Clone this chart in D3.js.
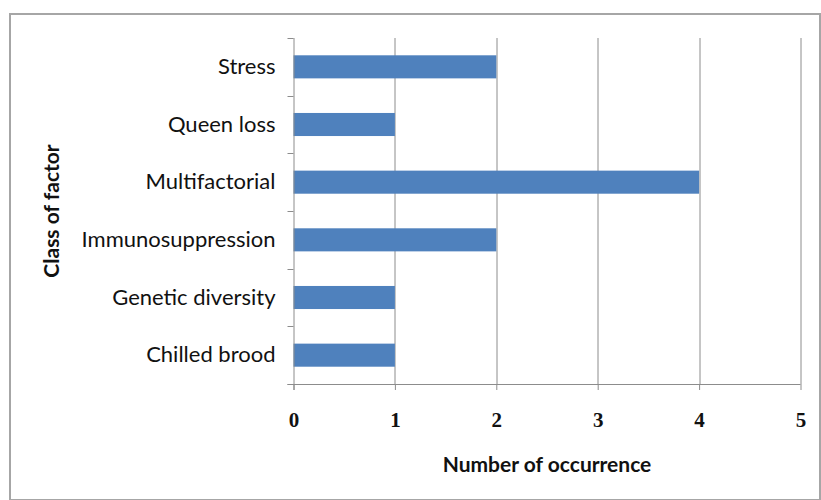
<!DOCTYPE html>
<html>
<head>
<meta charset="utf-8">
<script src="https://cdn.jsdelivr.net/npm/d3@7"></script>
<style>
  body { margin: 0; background: #fff; }
  svg { display: block; }
</style>
</head>
<body>
<div id="chart"></div>
<script>
// data, top to bottom
const factors = ['Stress', 'Queen loss', 'Multifactorial', 'Immunosuppression', 'Genetic diversity', 'Chilled brood']
const occurrences = [2, 1, 4, 2, 1, 1]
const xTicks = [0, 1, 2, 3, 4, 5]

const width = 821, height = 500
const margin = {top: 38, right: 20.5, bottom: 116, left: 293.5}
const plotW = width - margin.left - margin.right
const plotH = height - margin.top - margin.bottom

const data = factors.map((f, i) => ({factor: f, value: occurrences[i]}))

let svg = d3.select('#chart').append('svg')
    .attr('width', width)
    .attr('height', height)

// outer frame
svg.append('rect')
    .attr('x', 10).attr('y', 14)
    .attr('width', 810).attr('height', 486)
    .attr('fill', '#fff')
    .attr('stroke', '#a6a6a6')
    .attr('stroke-width', 2)

let g = svg.append('g')
    .attr('transform', `translate(${margin.left}, ${margin.top})`)

let x = d3.scaleLinear().domain([0, 5]).range([0, plotW])
let y = d3.scaleBand().domain(factors).range([0, plotH])
    .paddingInner(0.6).paddingOuter(0.3)

// vertical gridlines
g.selectAll('.grid')
    .data(xTicks.slice(1))
    .enter().append('line')
    .attr('class', 'grid')
    .attr('x1', d => Math.round(x(d)) + 0.5).attr('x2', d => Math.round(x(d)) + 0.5)
    .attr('y1', 0).attr('y2', plotH)
    .attr('stroke', '#8c8c8c')

// bars
g.selectAll('.bar')
    .data(data)
    .enter().append('rect')
    .attr('class', 'bar')
    .attr('x', x(0))
    .attr('y', d => y(d.factor))
    .attr('width', d => x(d.value) - x(0))
    .attr('height', y.bandwidth())
    .attr('fill', '#4f81bd')

// x axis
let xAxis = g.append('g')
    .attr('transform', `translate(0, ${plotH})`)
    .call(d3.axisBottom(x).tickValues(xTicks).tickFormat(d3.format('d')).tickSize(6).tickPadding(22))
xAxis.select('.domain').attr('stroke', '#8c8c8c').attr('d', `M-6,0.5H${plotW}`)
xAxis.selectAll('.tick line').attr('stroke', '#8c8c8c')
xAxis.selectAll('.tick text')
    .attr('font-family', '"Liberation Serif", "DejaVu Serif", serif')
    .attr('font-weight', 'bold')
    .attr('font-size', '21px')
    .attr('fill', '#111')

// y axis: labels at band centres, tick marks on band boundaries
let yAxis = g.append('g')
    .call(d3.axisLeft(y).tickSize(0).tickPadding(18))
yAxis.select('.domain').remove()
yAxis.selectAll('.tick text')
    .attr('font-family', 'Lato, "Open Sans", sans-serif')
    .attr('font-size', '22px')
    .attr('fill', '#111')

let step = plotH / factors.length
g.selectAll('.ytick')
    .data(d3.range(factors.length + 1))
    .enter().append('line')
    .attr('class', 'ytick')
    .attr('x1', -6).attr('x2', 0)
    .attr('y1', d => Math.round(d * step) + 0.5).attr('y2', d => Math.round(d * step) + 0.5)
    .attr('stroke', '#8c8c8c')
g.append('line')
    .attr('x1', 0.5).attr('x2', 0.5)
    .attr('y1', 0).attr('y2', plotH + 6)
    .attr('stroke', '#8c8c8c')

// axis titles
svg.append('text')
    .attr('x', 547).attr('y', 472)
    .attr('text-anchor', 'middle')
    .attr('font-family', 'Lato, "Open Sans", sans-serif')
    .attr('font-weight', 'bold')
    .attr('font-size', '21px')
    .attr('fill', '#111')
    .text('Number of occurrence')

svg.append('text')
    .attr('transform', `translate(59, ${margin.top + plotH / 2}) rotate(-90)`)
    .attr('text-anchor', 'middle')
    .attr('font-family', 'Lato, "Open Sans", sans-serif')
    .attr('font-weight', 'bold')
    .attr('font-size', '21px')
    .attr('fill', '#111')
    .text('Class of factor')
</script>
</body>
</html>
